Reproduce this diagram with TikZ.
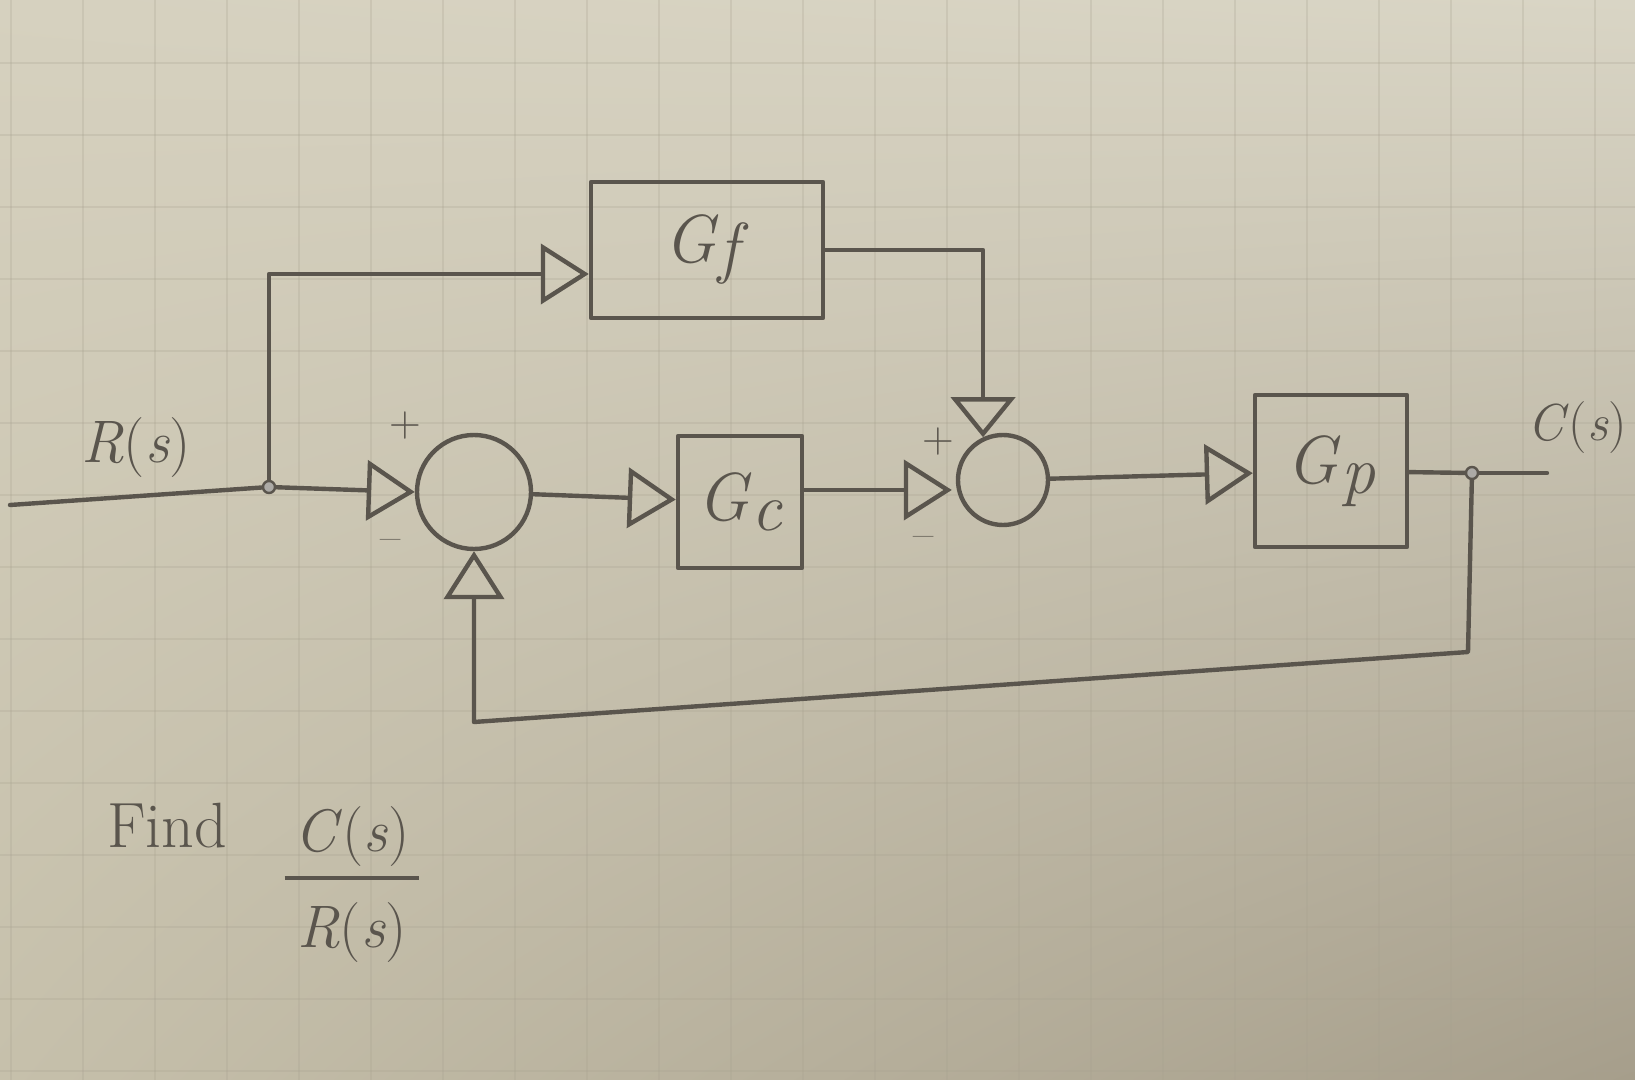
\documentclass[tikz,border=0pt]{standalone}
\usepackage{fontspec}
\usetikzlibrary{arrows.meta,calc,shadings}
\definecolor{pen}{HTML}{5A554D}
\definecolor{paperUL}{HTML}{D6D1BF}
\definecolor{paperUR}{HTML}{D9D5C5}
\definecolor{paperLL}{HTML}{C6C0AB}
\definecolor{paperLR}{HTML}{A69E8B}
\definecolor{gridc}{HTML}{A8A290}
\newcommand{\varit}[1]{\textit{#1}}
\begin{document}
\begin{tikzpicture}[x=0.5pt,y=-0.5pt,
  pen/.style={draw=pen,line width=2.2pt,line cap=round,line join=round},
  block/.style={pen,rectangle,inner sep=0pt,text=pen,font=\fontsize{34}{38}\selectfont},
  sumc/.style={pen,circle,inner sep=0pt},
  dotj/.style={draw=pen,circle,fill=pen!50,inner sep=0pt,minimum size=6pt,line width=1.2pt},
  lab/.style={text=pen,font=\fontsize{30}{34}\selectfont},
  sig/.style={text=pen,font=\fontsize{22}{24}\selectfont},
  tip/.style={-{Triangle[open,length=24pt,width=30pt]}},
  bigtip/.style={-{Triangle[open,length=20pt,width=32pt]}},
]
\useasboundingbox (0,0) rectangle (1635,1080);
\shade[upper left=paperUL,upper right=paperUR,lower left=paperLL,lower right=paperLR] (0,0) rectangle (1635,1080);
\foreach \gx in {11,83,...,1635} \draw[gridc,line width=0.8pt,opacity=0.25] (\gx,0) -- (\gx,1080);
\foreach \gy in {63,135,...,1080} \draw[gridc,line width=0.8pt,opacity=0.25] (0,\gy) -- (1635,\gy);

% nodes
\node[block,minimum width=116pt,minimum height=68pt] (Gf) at (707,250) {\varit{G}\raisebox{-4pt}{\varit{f}}};
\node[block,minimum width=62pt,minimum height=66pt] (Gc) at (740,502) {\varit{G}\raisebox{-5pt}{\varit{c}}};
\node[block,minimum width=76pt,minimum height=76pt] (Gp) at (1331,471) {\varit{G}\raisebox{-5pt}{\varit{p}}};
\node[sumc,minimum size=57pt] (sum1) at (474,492) {};
\node[sumc,minimum size=45pt] (sum2) at (1003,480) {};
\node[dotj] (j1) at (269,487) {};
\node[dotj] (j2) at (1472,473) {};
\coordinate (in) at (10,505);
\coordinate (out) at (1547,473);
\coordinate (gfin) at ($(Gf.west)+(0,24)$);
\coordinate (s2in) at ($(sum2.west)+(-4,10)$);
\coordinate (fb1) at (1468,652);
\coordinate (fb2) at (sum1.south |- 0,722);

% signs
\node[sig] (p1) at (405,426) {+};
\node[sig] (m1) at (391,545) {\textendash};
\node[sig] (p2) at (938,442) {+};
\node[sig] (m2) at (924,542) {\textendash};

% labels
\node[lab] (R) at (136,448) {\varit{R}(\varit{s})};
\node[lab,font=\fontsize{26}{30}\selectfont] (C) at (1577,428) {\varit{C}(\varit{s})};
\node[lab,font=\fontsize{32}{36}\selectfont] (find) at (167,826) {Find};
\node[lab] (frac) at (352,886) {\setlength{\arrayrulewidth}{2.2pt}\begin{tabular}{@{\,}c@{\,}}\varit{C}(\varit{s})\\[2pt]\hline\rule{0pt}{34pt}\varit{R}(\varit{s})\end{tabular}};

% connectors
\draw[pen] (in) -- (j1);
\draw[pen,tip] (j1) -- (sum1.west);
\draw[pen,tip] (j1) |- (gfin);
\draw[pen,tip] (sum1) -- (Gc);
\draw[pen,tip] (Gc.east |- s2in) -- (s2in);
\draw[pen,bigtip] (Gf.east) -| (sum2.115);
\draw[pen,tip] (sum2) -- (Gp);
\draw[pen] (Gp) -- (j2);
\draw[pen] (j2) -- (out);
\draw[pen,tip] (j2) -- (fb1) -- (fb2) -- (sum1.south);
\end{tikzpicture}
\end{document}
